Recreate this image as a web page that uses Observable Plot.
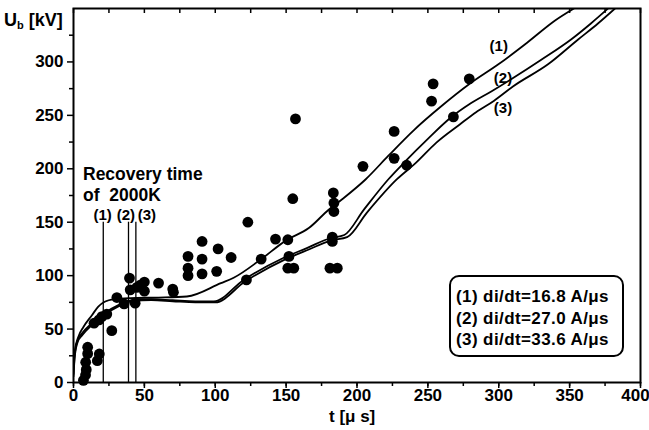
<!DOCTYPE html>
<html>
<head>
<meta charset="utf-8">
<script src="https://cdn.jsdelivr.net/npm/d3@7"></script>
<script src="https://cdn.jsdelivr.net/npm/@observablehq/plot@0.6"></script>
<style>
  body { margin: 0; background: #fff; }
  #wrap { position: relative; width: 649px; height: 430px; font-family: "Liberation Sans", Arial, sans-serif; font-weight: bold; color: #000; }
  #wrap svg { position: absolute; left: 0; top: 0; }
  .ov { position: absolute; white-space: nowrap; line-height: 1; }
</style>
</head>
<body>
<div id="wrap"></div>
<script>
// ---- data ----
const xTicks = [0, 50, 100, 150, 200, 250, 300, 350, 400];
const yTicks = [0, 50, 100, 150, 200, 250, 300];
const minorX = [0, 25, 50, 75, 100, 125, 150, 175, 200, 225, 250, 275, 300, 325, 350, 375, 400];
const minorY = [25, 75, 125, 175, 225, 275, 325];

// measured points
const pointT = [10, 10, 8.6, 9, 8.5, 7, 18.2, 16.8,
  14.5, 18, 20, 23.5, 27, 30.6, 35.7, 39.5, 40, 43.5, 44.7, 47, 50, 50, 60, 70, 70.5,
  80.8, 80.8, 80.8, 90.7, 90.7, 90.7, 102, 101, 111.2, 123, 122, 132.4, 142.5,
  151.2, 152, 151.2, 155.4, 154.7, 156.6, 183.3, 183.7, 183.7, 182.6, 182.6, 180.9, 186.1,
  204.2, 226.2, 226.2, 235, 253.7, 252.6, 268, 279.2];
const pointU = [33, 27, 19, 12, 7, 2, 26.7, 20.4,
  55.5, 58.6, 61.7, 64, 48.5, 79.5, 73.6, 97.7, 86.7, 74.2, 89, 91, 94, 85.5, 93, 87.4, 84.5,
  118, 107, 100, 132, 115.5, 101.7, 125, 104, 117, 150, 96, 115.5, 134.2,
  133.6, 118, 107, 107, 172, 246.7, 177.4, 168, 160, 136, 132, 107, 107,
  202.3, 235, 209.8, 203.3, 279.5, 263.3, 248.6, 284.2];

// curve (1) di/dt = 16.8 A/us
const c1T = [0, 1, 3.5, 7, 13, 17.5, 22, 29, 40, 60, 80, 104, 113, 132, 150, 166, 180, 190, 206, 222, 240, 259, 280, 300, 320, 340, 353];
const c1U = [15, 30, 43, 52, 63, 71, 75.5, 78, 79, 79.5, 80.5, 93, 98, 115, 133, 144.5, 161.7, 172, 190, 212, 236, 258, 280, 298, 318, 339, 350];
// curve (2) di/dt = 27.0 A/us
const c2T = [0, 1, 3, 6, 13, 22, 32, 41, 55, 70, 86, 99, 120, 148, 165, 181, 191, 205, 222, 233, 250, 266, 280, 295, 309, 330, 351, 365, 378];
const c2U = [8, 28, 40, 46, 55.5, 65, 72.7, 77, 78, 77, 76, 76, 96, 116.5, 126, 135, 138, 162, 190, 205.5, 228, 247.7, 261, 272.6, 284, 302, 321, 336, 351];
// curve (3) di/dt = 33.6 A/us
const c3T = [0, 1, 3, 6, 13, 22, 32, 41, 55, 70, 86, 100, 121, 149, 166, 182, 193, 207, 228, 241.5, 256, 272.5, 284, 296.5, 310, 335, 356, 370, 382];
const c3U = [6, 26, 38, 44, 54, 63.5, 71.5, 76, 77, 76, 75, 75, 94.5, 115, 124.5, 133, 136, 159, 190, 205.5, 224.5, 241.5, 253, 263.5, 277, 298, 321, 336, 350];

// recovery time of 2000K markers
const recLabels = ["(1)", "(2)", "(3)"];
const recT = [21, 38.8, 44];
const recTop = [150, 150, 150];
const recLabelT = [20.6, 37, 51.8];
const recLabelU = [156.5, 156.5, 156.5];
const recTitle = ["Recovery time", "of  2000K"];
const recTitleT = [6.7, 6.7];
const recTitleU = [195, 175.5];

// curve labels
const curveLabelT = [300, 303, 303];
const curveLabelU = [314.5, 285, 257];

const rates = ["16.8", "27.0", "33.6"];

// ---- build ----
const points = pointT.map((t, i) => ({t, U: pointU[i]}));
const mk = (T, U, s) => T.map((t, i) => ({t, U: U[i], s}));
const curves = [...mk(c1T, c1U, 1), ...mk(c2T, c2U, 2), ...mk(c3T, c3U, 3)];
const rec = recT.map((t, i) => ({t, top: recTop[i], lab: recLabels[i], lt: recLabelT[i], lu: recLabelU[i], dotted: i === 2}));
const titles = recTitle.map((s, i) => ({s, t: recTitleT[i], U: recTitleU[i]}));
const clabs = recLabels.map((l, i) => ({l, t: curveLabelT[i], U: curveLabelU[i]}));
const xLabInner = xTicks.slice(0, -1);
const xLabLast = xTicks.slice(-1);

const W = 649, H = 430, mL = 73, mR = 9, mT = 8, mB = 48;
const frameH = H - mT - mB;
const font = "'Liberation Sans', Arial, sans-serif";

const chart = Plot.plot({
  width: W, height: H,
  marginLeft: mL, marginRight: mR, marginTop: mT, marginBottom: mB,
  style: {fontFamily: font, fontWeight: "bold", fontSize: "17px", color: "#000", background: "white"},
  x: {domain: [0, 400], axis: null},
  y: {domain: [0, 350], axis: null},
  marks: [
    // minor ticks bottom & left (outward)
    Plot.axisX({ticks: minorX, tickSize: 4, text: null, strokeWidth: 1.5}),
    Plot.axisY({ticks: minorY, tickSize: 4, text: null, strokeWidth: 1.5}),
    // major ticks
    Plot.axisX({ticks: xTicks, tickSize: 6, text: null, label: null, strokeWidth: 1.5}),
    Plot.axisY({ticks: yTicks, tickSize: 6, tickPadding: 4, label: null, strokeWidth: 1.5, fontSize: 17}),
    // x tick labels
    Plot.text(xLabInner, {x: d => d, frameAnchor: "bottom", dy: 18, text: d => String(d), fontSize: 17}),
    Plot.text(xLabLast, {x: d => d, frameAnchor: "bottom", dy: 18, dx: -5, text: d => String(d), fontSize: 17}),
    // top inward ticks
    Plot.ruleX(minorX, {x: d => d, insetBottom: frameH - 5, strokeWidth: 1.5}),
    Plot.frame({stroke: "black", strokeWidth: 2}),
    // recovery markers
    Plot.ruleX(rec, {x: "t", y1: 0, y2: "top", stroke: "black", strokeWidth: 1.3, strokeDasharray: d => d.dotted ? "1.5,1.5" : null}),
    Plot.text(rec, {x: "lt", y: "lu", text: "lab", fontSize: 15, fontWeight: "bold"}),
    Plot.text(titles, {x: "t", y: "U", text: "s", textAnchor: "start", fontSize: 17.5, fontWeight: "bold"}),
    // curves
    Plot.line(curves, {x: "t", y: "U", z: "s", stroke: "black", strokeWidth: 1.8, curve: "monotone-x", clip: true}),
    Plot.text(clabs, {x: "t", y: "U", text: "l", fontSize: 15, fontWeight: "bold"}),
    // measured points
    Plot.dot(points, {x: "t", y: "U", r: 5.4, fill: "black", stroke: "none"})
  ]
});

const wrap = document.getElementById("wrap");
wrap.appendChild(chart);
d3.select(chart).selectAll("text").attr("xml:space", "preserve");

// y label
const yl = document.createElement("div");
yl.className = "ov";
yl.style.cssText = "left:4px;top:11px;font-size:18px;";
yl.innerHTML = "U<sub style='font-size:11px;vertical-align:-3px'>b</sub> [kV]";
wrap.appendChild(yl);

// x label
const xl = document.createElement("div");
xl.className = "ov";
xl.style.cssText = "left:329px;top:408px;font-size:17px;";
xl.textContent = "t [\u03bc s]";
wrap.appendChild(xl);

// legend box
const lg = document.createElement("div");
lg.className = "ov";
lg.style.cssText = "left:449px;top:275px;width:175px;height:82px;box-sizing:border-box;border:2px solid #000;border-radius:10px;padding:9px 0 0 5px;font-size:17px;letter-spacing:0.4px;line-height:21.7px;background:#fff;";
lg.innerHTML = rates.map((r, i) => `${recLabels[i]} di/dt=${r} A/\u03bcs`).join("<br>");
wrap.appendChild(lg);
</script>
</body>
</html>
